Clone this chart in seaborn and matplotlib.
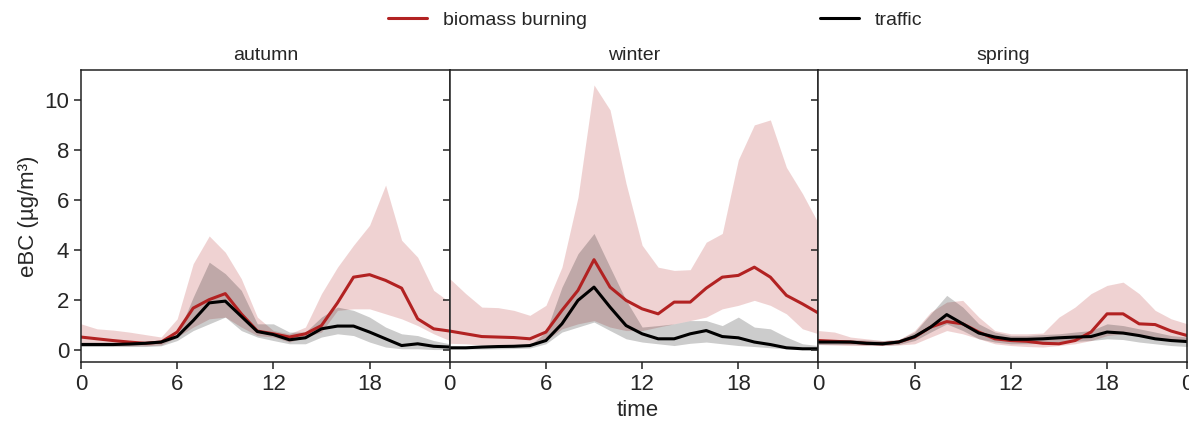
import numpy as np
import pandas as pd
import matplotlib
matplotlib.use("Agg")
import matplotlib.pyplot as plt
import seaborn as sns

hours = list(range(24))
seasons = ["autumn", "winter", "spring"]

# ---- autumn ----
autumn_bb = [0.50, 0.43, 0.36, 0.30, 0.25, 0.30, 0.70, 1.66, 2.00, 2.24, 1.43, 0.74,
             0.63, 0.50, 0.63, 0.96, 1.87, 2.90, 3.00, 2.77, 2.46, 1.23, 0.83, 0.74]
autumn_bb_hi = [1.03, 0.83, 0.78, 0.70, 0.60, 0.50, 1.23, 3.44, 4.55, 3.90, 2.84, 1.30,
                0.76, 0.63, 0.90, 2.24, 3.30, 4.18, 4.98, 6.59, 4.38, 3.70, 2.37, 1.90]
autumn_bb_lo = [0.20, 0.18, 0.16, 0.15, 0.15, 0.18, 0.50, 0.90, 1.23, 1.30, 0.90, 0.56,
                0.50, 0.30, 0.50, 0.70, 1.57, 1.63, 1.63, 1.43, 1.23, 0.96, 0.63, 0.36]
autumn_tr = [0.20, 0.20, 0.20, 0.22, 0.25, 0.30, 0.52, 1.16, 1.87, 1.94, 1.33, 0.72,
             0.60, 0.39, 0.47, 0.83, 0.94, 0.94, 0.70, 0.43, 0.16, 0.23, 0.13, 0.10]
autumn_tr_hi = [0.30, 0.30, 0.30, 0.30, 0.32, 0.35, 0.56, 2.10, 3.50, 3.04, 2.37, 1.03,
                1.03, 0.70, 0.70, 1.30, 1.70, 1.57, 1.30, 0.90, 0.63, 0.56, 0.36, 0.23]
autumn_tr_lo = [0.12, 0.12, 0.12, 0.12, 0.12, 0.15, 0.36, 0.76, 1.03, 1.30, 0.76, 0.50,
                0.36, 0.23, 0.23, 0.50, 0.63, 0.56, 0.30, 0.10, 0.03, 0.03, 0.00, 0.00]

# ---- winter ----
winter_bb = [0.74, 0.63, 0.52, 0.50, 0.48, 0.43, 0.70, 1.57, 2.37, 3.60, 2.50, 1.97,
             1.63, 1.43, 1.90, 1.90, 2.46, 2.90, 2.97, 3.30, 2.90, 2.17, 1.83, 1.46]
winter_bb_hi = [2.84, 2.24, 1.70, 1.68, 1.57, 1.37, 1.77, 3.30, 6.10, 10.60, 9.60, 6.65,
                4.18, 3.30, 3.17, 3.20, 4.30, 4.65, 7.60, 9.00, 9.20, 7.30, 6.25, 5.05]
winter_bb_lo = [0.25, 0.23, 0.18, 0.16, 0.16, 0.16, 0.36, 0.83, 1.03, 1.16, 0.90, 0.76,
                0.76, 0.90, 1.03, 1.16, 1.30, 1.63, 1.77, 1.97, 1.77, 1.43, 0.83, 0.63]
winter_tr = [0.07, 0.07, 0.10, 0.12, 0.13, 0.16, 0.36, 1.03, 1.97, 2.50, 1.70, 0.96,
             0.63, 0.43, 0.43, 0.63, 0.76, 0.52, 0.47, 0.30, 0.20, 0.07, 0.03, 0.03]
winter_tr_hi = [0.12, 0.12, 0.12, 0.13, 0.14, 0.18, 0.70, 2.50, 3.84, 4.65, 3.30, 1.97,
                0.90, 0.96, 1.03, 1.16, 1.16, 0.96, 1.30, 0.90, 0.83, 0.50, 0.23, 0.16]
winter_tr_lo = [0.02, 0.02, 0.02, 0.03, 0.04, 0.06, 0.23, 0.70, 0.90, 1.10, 0.76, 0.43,
                0.30, 0.23, 0.16, 0.25, 0.30, 0.23, 0.16, 0.12, 0.07, 0.03, 0.01, 0.01]

# ---- spring ----
spring_bb = [0.36, 0.33, 0.30, 0.25, 0.23, 0.30, 0.50, 0.90, 1.12, 1.03, 0.70, 0.43,
             0.36, 0.33, 0.25, 0.23, 0.36, 0.70, 1.43, 1.43, 1.03, 1.00, 0.74, 0.56]
spring_bb_hi = [0.76, 0.70, 0.50, 0.43, 0.36, 0.39, 0.76, 1.50, 1.90, 1.97, 1.30, 0.76,
                0.63, 0.63, 0.66, 1.30, 1.70, 2.24, 2.57, 2.70, 2.24, 1.57, 1.23, 1.03]
spring_bb_lo = [0.20, 0.18, 0.16, 0.16, 0.16, 0.18, 0.23, 0.50, 0.76, 0.63, 0.43, 0.23,
                0.16, 0.12, 0.10, 0.16, 0.23, 0.36, 0.56, 0.63, 0.56, 0.50, 0.36, 0.30]
spring_tr = [0.30, 0.30, 0.30, 0.25, 0.23, 0.30, 0.52, 0.90, 1.40, 1.03, 0.66, 0.50,
             0.41, 0.41, 0.43, 0.47, 0.50, 0.52, 0.70, 0.66, 0.56, 0.43, 0.36, 0.32]
spring_tr_hi = [0.40, 0.40, 0.40, 0.38, 0.36, 0.40, 0.70, 1.43, 2.17, 1.70, 1.03, 0.70,
                0.56, 0.56, 0.60, 0.63, 0.70, 0.76, 1.03, 0.96, 0.83, 0.70, 0.56, 0.50]
spring_tr_lo = [0.20, 0.20, 0.20, 0.18, 0.16, 0.20, 0.36, 0.70, 1.03, 0.76, 0.43, 0.30,
                0.23, 0.23, 0.25, 0.30, 0.33, 0.36, 0.43, 0.40, 0.30, 0.23, 0.16, 0.12]

series_names = ["biomass burning", "traffic"]
colors = {"biomass burning": "#b22222", "traffic": "#000000"}

xtick_vals = [0, 6, 12, 18]
xtick_labels = ["0", "6", "12", "18"]
ytick_vals = [0, 2, 4, 6, 8, 10]

data = {
    "autumn": {"biomass burning": (autumn_bb, autumn_bb_lo, autumn_bb_hi),
               "traffic": (autumn_tr, autumn_tr_lo, autumn_tr_hi)},
    "winter": {"biomass burning": (winter_bb, winter_bb_lo, winter_bb_hi),
               "traffic": (winter_tr, winter_tr_lo, winter_tr_hi)},
    "spring": {"biomass burning": (spring_bb, spring_bb_lo, spring_bb_hi),
               "traffic": (spring_tr, spring_tr_lo, spring_tr_hi)},
}

sns.set_theme(style="ticks")
plt.rcParams["font.family"] = ["Liberation Sans", "DejaVu Sans"]
plt.rcParams["xtick.direction"] = "out"
plt.rcParams["ytick.direction"] = "out"
plt.rcParams["axes.edgecolor"] = "#222222"
plt.rcParams["axes.linewidth"] = 1.1

fig, axes = plt.subplots(1, 3, sharey=True, figsize=(11.89, 4.32), dpi=100)
fig.subplots_adjust(left=0.0681, right=0.9985, bottom=0.162, top=0.838, wspace=0)

for i, (ax, season) in enumerate(zip(axes, seasons)):
    rows = []
    for name in series_names:
        mean, lo, hi = data[season][name]
        ax.fill_between(hours, lo, hi, color=colors[name], alpha=0.2, linewidth=0)
        for h, v in zip(hours, mean):
            rows.append({"time": h, "eBC": v, "source": name})
    df = pd.DataFrame(rows)
    sns.lineplot(data=df, x="time", y="eBC", hue="source", palette=colors,
                 hue_order=series_names, linewidth=2.2, ax=ax, legend=False)
    ax.set_title(season, fontsize=14, pad=7)
    ax.set_xlim(0, 23)
    ax.set_ylim(-0.5, 11.2)
    if i == len(seasons) - 1:
        ax.set_xticks(xtick_vals + [23])
        ax.set_xticklabels(xtick_labels + ["0"])
    else:
        ax.set_xticks(xtick_vals)
        ax.set_xticklabels(xtick_labels)
    ax.set_yticks(ytick_vals)
    ax.tick_params(axis="both", labelsize=16, length=5, width=1.1, color="#222222")
    ax.set_xlabel("")
    ax.set_ylabel("")
    for sp in ax.spines.values():
        sp.set_visible(True)

axes[0].set_ylabel("eBC (µg/m³)", fontsize=16)
fig.text(0.536, 0.05, "time", ha="center", va="center", fontsize=16)

handles = [plt.Line2D([], [], color=colors[n], lw=2.2) for n in series_names]
fig.legend(handles, series_names, loc="center", bbox_to_anchor=(0.551, 0.954),
           ncol=2, frameon=False, fontsize=14, columnspacing=12, handlelength=2.0)

fig.savefig("out.png", dpi=100)
